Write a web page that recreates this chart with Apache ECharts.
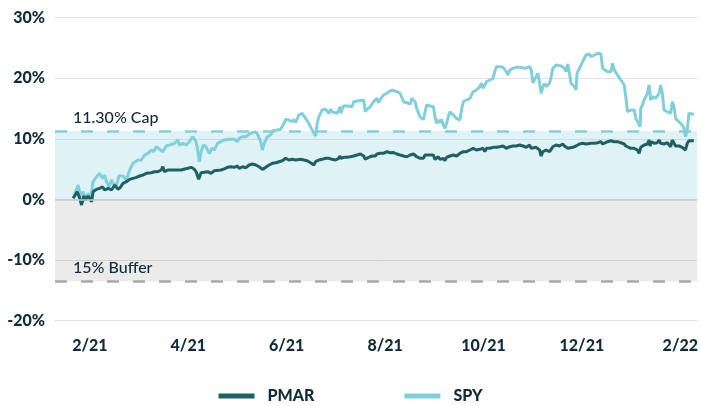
<!DOCTYPE html>
<html><head><meta charset="utf-8">
<script src="https://cdn.jsdelivr.net/npm/echarts@6/dist/echarts.min.js"></script>
<style>html,body{margin:0;padding:0;background:#fff}#c{width:701px;height:406px}</style>
</head><body><div id="c"></div>
<script>
// x values are months counted from 1 Jan 2021 (1 = Feb 2021, 13 = Feb 2022)
const xTickValues = [1, 3, 5, 7, 9, 11, 13];
const xTickLabels = ['2/21', '4/21', '6/21', '8/21', '10/21', '12/21', '2/22'];
const capLevel = 11.3;
const bufferLevel = -13.5;
const capLabel = '11.30% Cap';
const bufferLabel = '15% Buffer';
const seriesNames = ['PMAR', 'SPY'];

const spy = [[0.662,0.18],[0.763,2.37],[0.812,0.45],[0.864,1.27],[0.919,-0.10],[0.966,1.01],[1.014,0.18],[1.067,2.92],[1.136,3.74],[1.202,4.30],[1.257,3.48],[1.304,4.02],[1.338,2.92],[1.391,2.09],[1.439,3.20],[1.471,2.65],[1.540,2.37],[1.593,3.86],[1.674,3.86],[1.743,3.20],[1.809,4.85],[1.876,5.95],[1.977,6.50],[2.046,6.50],[2.113,7.32],[2.180,7.60],[2.248,8.15],[2.295,7.87],[2.350,8.69],[2.416,8.26],[2.483,7.87],[2.552,8.81],[2.619,8.97],[2.720,9.25],[2.787,9.80],[2.821,8.97],[2.888,9.25],[2.957,8.97],[3.023,9.52],[3.090,10.34],[3.159,9.52],[3.191,8.15],[3.226,6.22],[3.260,7.87],[3.307,8.97],[3.361,8.69],[3.428,7.60],[3.483,8.43],[3.529,8.15],[3.596,9.25],[3.665,9.52],[3.732,9.80],[3.833,9.91],[3.934,9.91],[4.001,9.52],[4.035,10.08],[4.102,10.34],[4.171,10.34],[4.238,10.78],[4.304,11.00],[4.373,11.16],[4.406,10.78],[4.440,10.62],[4.474,9.52],[4.507,8.15],[4.541,9.14],[4.575,9.80],[4.608,10.34],[4.677,10.62],[4.709,11.28],[4.810,11.44],[4.879,11.56],[4.946,12.55],[4.980,13.21],[5.047,13.09],[5.114,12.81],[5.148,13.21],[5.182,12.65],[5.215,12.55],[5.249,13.92],[5.316,14.20],[5.350,13.92],[5.385,13.37],[5.452,12.55],[5.518,11.44],[5.587,10.46],[5.620,12.55],[5.654,13.64],[5.688,14.20],[5.721,14.74],[5.790,14.86],[5.856,14.20],[5.891,14.86],[5.923,14.46],[5.958,14.20],[6.024,14.20],[6.059,14.74],[6.093,15.29],[6.105,14.20],[6.125,14.86],[6.160,15.40],[6.261,15.40],[6.328,15.29],[6.362,16.11],[6.463,16.28],[6.565,16.39],[6.599,14.46],[6.631,14.86],[6.700,15.29],[6.767,16.11],[6.834,16.67],[6.868,15.95],[6.902,16.51],[6.969,17.22],[7.036,17.50],[7.070,17.76],[7.137,18.04],[7.172,18.04],[7.238,17.76],[7.307,17.50],[7.340,16.84],[7.374,16.11],[7.441,15.95],[7.475,16.11],[7.510,15.73],[7.542,16.67],[7.611,16.11],[7.643,15.02],[7.712,13.54],[7.779,13.21],[7.813,13.21],[7.845,15.57],[7.914,15.40],[7.981,15.29],[8.015,13.64],[8.048,12.55],[8.082,13.09],[8.117,12.65],[8.149,13.21],[8.183,12.27],[8.218,11.72],[8.250,12.55],[8.285,13.64],[8.319,14.46],[8.386,13.92],[8.453,13.37],[8.521,13.09],[8.554,14.74],[8.588,16.11],[8.655,16.39],[8.724,16.67],[8.790,17.76],[8.857,18.04],[8.926,18.59],[8.958,19.15],[8.993,18.32],[9.027,18.04],[9.060,19.41],[9.128,19.69],[9.195,19.97],[9.229,21.06],[9.262,21.88],[9.331,21.88],[9.397,21.78],[9.464,21.06],[9.499,20.51],[9.533,21.34],[9.600,21.62],[9.667,21.78],[9.701,22.00],[9.735,21.78],[9.768,22.00],[9.836,21.62],[9.869,21.45],[9.938,21.88],[9.970,21.34],[10.004,19.24],[10.039,19.81],[10.071,20.23],[10.106,20.79],[10.140,19.15],[10.172,17.50],[10.207,18.59],[10.241,19.15],[10.274,18.59],[10.308,18.87],[10.342,19.15],[10.375,20.23],[10.409,21.62],[10.476,22.16],[10.510,22.10],[10.577,22.00],[10.646,21.62],[10.678,21.06],[10.713,22.33],[10.747,20.79],[10.779,19.15],[10.848,18.59],[10.881,18.04],[10.901,20.79],[10.950,21.62],[11.016,22.71],[11.083,23.81],[11.152,23.98],[11.184,23.53],[11.253,23.81],[11.320,24.09],[11.387,23.98],[11.421,21.62],[11.455,21.34],[11.522,21.06],[11.589,21.06],[11.623,22.44],[11.658,21.34],[11.724,20.51],[11.791,19.69],[11.860,18.87],[11.892,16.94],[11.927,14.46],[11.994,14.74],[12.062,14.74],[12.095,13.37],[12.129,13.09],[12.184,11.99],[12.196,15.02],[12.230,15.57],[12.265,16.39],[12.332,17.50],[12.366,18.87],[12.398,16.39],[12.433,16.94],[12.499,16.67],[12.534,16.39],[12.568,17.50],[12.601,18.87],[12.635,17.50],[12.669,14.74],[12.736,14.46],[12.803,14.20],[12.837,16.11],[12.872,15.29],[12.904,13.37],[12.973,12.81],[13.040,12.27],[13.074,11.72],[13.106,10.34],[13.141,11.44],[13.175,14.20],[13.242,14.08],[13.276,13.92]];

const pmar = [[0.662,0.18],[0.743,1.27],[0.783,0.45],[0.832,-0.92],[0.879,0.56],[0.919,-0.10],[0.966,0.56],[1.034,-0.38],[1.067,1.27],[1.136,1.67],[1.202,1.83],[1.257,2.09],[1.304,1.55],[1.370,1.83],[1.439,1.55],[1.506,2.37],[1.573,1.67],[1.621,2.00],[1.674,2.65],[1.743,2.92],[1.809,3.31],[1.876,3.48],[1.945,3.64],[2.012,3.86],[2.079,4.02],[2.147,4.30],[2.248,4.40],[2.315,4.57],[2.382,4.57],[2.451,4.85],[2.483,5.39],[2.518,4.57],[2.584,4.85],[2.720,4.85],[2.856,4.85],[2.989,5.13],[3.058,5.29],[3.125,4.96],[3.159,4.57],[3.212,3.31],[3.260,4.40],[3.394,4.57],[3.463,4.30],[3.529,4.73],[3.665,4.85],[3.732,5.05],[3.798,5.29],[3.867,5.39],[3.934,5.29],[4.001,5.51],[4.035,5.13],[4.102,5.39],[4.171,5.23],[4.238,5.67],[4.304,5.84],[4.373,5.67],[4.440,5.39],[4.507,4.96],[4.575,5.29],[4.642,5.67],[4.709,5.95],[4.778,6.05],[4.845,6.22],[4.911,6.38],[4.946,6.61],[4.980,6.78],[5.047,6.50],[5.114,6.61],[5.182,6.50],[5.215,6.78],[5.284,6.61],[5.350,6.50],[5.417,6.38],[5.486,6.05],[5.553,5.67],[5.587,6.22],[5.654,6.50],[5.721,6.61],[5.790,6.78],[5.856,6.78],[5.923,6.61],[5.992,6.50],[6.059,6.78],[6.079,7.16],[6.105,6.78],[6.160,6.94],[6.227,6.94],[6.295,7.04],[6.362,7.16],[6.429,7.32],[6.498,7.49],[6.565,7.16],[6.599,6.61],[6.666,6.94],[6.733,7.16],[6.801,7.16],[6.834,7.49],[6.868,7.32],[6.902,7.60],[6.969,7.60],[7.036,7.87],[7.105,7.70],[7.172,7.74],[7.238,7.49],[7.307,7.32],[7.374,7.16],[7.441,7.04],[7.510,7.32],[7.576,7.49],[7.643,7.04],[7.712,6.78],[7.779,6.78],[7.813,7.32],[7.845,7.49],[7.914,7.32],[7.981,7.32],[8.015,6.61],[8.048,6.50],[8.082,7.04],[8.117,6.61],[8.183,6.78],[8.218,6.38],[8.250,6.94],[8.319,7.16],[8.386,7.32],[8.420,7.04],[8.453,7.16],[8.521,7.60],[8.588,7.87],[8.655,7.87],[8.724,8.15],[8.790,8.43],[8.825,8.69],[8.857,8.15],[8.926,8.26],[8.993,8.43],[9.027,7.87],[9.060,8.43],[9.128,8.43],[9.195,8.59],[9.262,8.59],[9.331,8.69],[9.397,8.81],[9.464,8.43],[9.533,8.69],[9.600,8.81],[9.667,8.81],[9.735,8.97],[9.802,8.81],[9.869,8.59],[9.938,8.97],[9.970,8.43],[10.004,8.69],[10.071,8.59],[10.140,8.15],[10.172,7.16],[10.207,7.87],[10.241,7.70],[10.274,8.15],[10.308,8.26],[10.342,7.87],[10.375,8.26],[10.409,8.69],[10.476,8.97],[10.544,8.81],[10.612,9.14],[10.646,8.81],[10.678,8.97],[10.713,8.43],[10.747,8.15],[10.814,8.59],[10.881,8.81],[10.950,9.14],[11.016,9.25],[11.083,9.14],[11.117,9.35],[11.184,9.25],[11.219,9.52],[11.253,9.25],[11.320,9.35],[11.387,9.52],[11.421,9.14],[11.455,9.35],[11.522,9.52],[11.589,9.68],[11.658,9.52],[11.724,9.52],[11.791,9.35],[11.860,9.14],[11.892,8.81],[11.927,8.59],[11.994,8.43],[12.062,8.43],[12.129,8.15],[12.163,7.60],[12.196,8.59],[12.265,8.97],[12.332,9.14],[12.366,9.80],[12.386,8.81],[12.412,9.52],[12.467,9.25],[12.534,9.35],[12.568,9.80],[12.601,9.25],[12.669,9.14],[12.736,9.35],[12.803,8.69],[12.837,9.80],[12.872,9.68],[12.904,8.81],[12.973,8.81],[13.040,8.59],[13.106,8.15],[13.141,9.25],[13.175,9.68],[13.276,9.68]];

const navy = '#0f2c38';
const font = 'Lato, "Open Sans", sans-serif';
const pmarColor = '#1e6165';
const spyColor = '#80d0da';

const chart = echarts.init(document.getElementById('c'), null, { renderer: 'canvas' });
chart.setOption({
  animation: false,
  backgroundColor: '#fff',
  grid: { left: 55, right: 1, top: 17.5, bottom: 85.3 },
  legend: {
    data: seriesNames, left: 'center', top: 388, padding: 0,
    itemWidth: 36, itemHeight: 5, itemGap: 90, icon: 'rect',
    textStyle: { color: navy, fontFamily: font, fontWeight: 900, fontSize: 16, padding: [0, 0, 0, 8] }
  },
  xAxis: {
    type: 'value', min: 0.292, max: 13.343,
    axisLine: { show: false }, axisTick: { show: false }, splitLine: { show: false },
    axisLabel: {
      customValues: xTickValues,
      formatter: function (v) { const i = xTickValues.indexOf(v); return i >= 0 ? xTickLabels[i] : ''; },
      color: navy, fontFamily: font, fontWeight: 900, fontSize: 16, margin: 17
    }
  },
  yAxis: {
    type: 'value', min: -20, max: 30, interval: 10,
    axisLine: { show: false }, axisTick: { show: false },
    splitLine: { lineStyle: { color: '#e3e3e3', width: 1 } },
    axisLabel: { formatter: '{value}%', color: navy, fontFamily: font, fontWeight: 900, fontSize: 16, margin: 10 }
  },
  series: [
    {
      name: 'bands', type: 'line', data: [], z: 1, silent: true,
      markArea: {
        silent: true,
        data: [
          [{ yAxis: 0, itemStyle: { color: 'rgba(128,208,218,0.25)' } }, { yAxis: capLevel }],
          [{ yAxis: bufferLevel, itemStyle: { color: 'rgba(0,0,0,0.08)' } }, { yAxis: 0 }]
        ]
      },
      markLine: {
        silent: true, symbol: ['none', 'none'], animation: false,
        data: [
          { yAxis: 0, lineStyle: { color: '#c9c9c9', type: 'solid', width: 1.5 }, label: { show: false } },
          { yAxis: capLevel, lineStyle: { color: spyColor, type: [12, 14], width: 2.5 },
            label: { show: true, formatter: capLabel, position: 'insideStartTop', distance: [18, 5], color: navy, fontFamily: font, fontWeight: 500, fontSize: 16 } },
          { yAxis: bufferLevel, lineStyle: { color: '#a9a9a9', type: [12, 14], width: 2.5 },
            label: { show: true, formatter: bufferLabel, position: 'insideStartTop', distance: [18, 5], color: navy, fontFamily: font, fontWeight: 500, fontSize: 16 } }
        ]
      }
    },
    {
      name: 'SPY', type: 'line', data: spy, z: 3, showSymbol: false, silent: true,
      lineStyle: { color: spyColor, width: 3 }, itemStyle: { color: spyColor }
    },
    {
      name: 'PMAR', type: 'line', data: pmar, z: 4, showSymbol: false, silent: true,
      lineStyle: { color: pmarColor, width: 3 }, itemStyle: { color: pmarColor }
    }
  ]
});
</script>
</body></html>
